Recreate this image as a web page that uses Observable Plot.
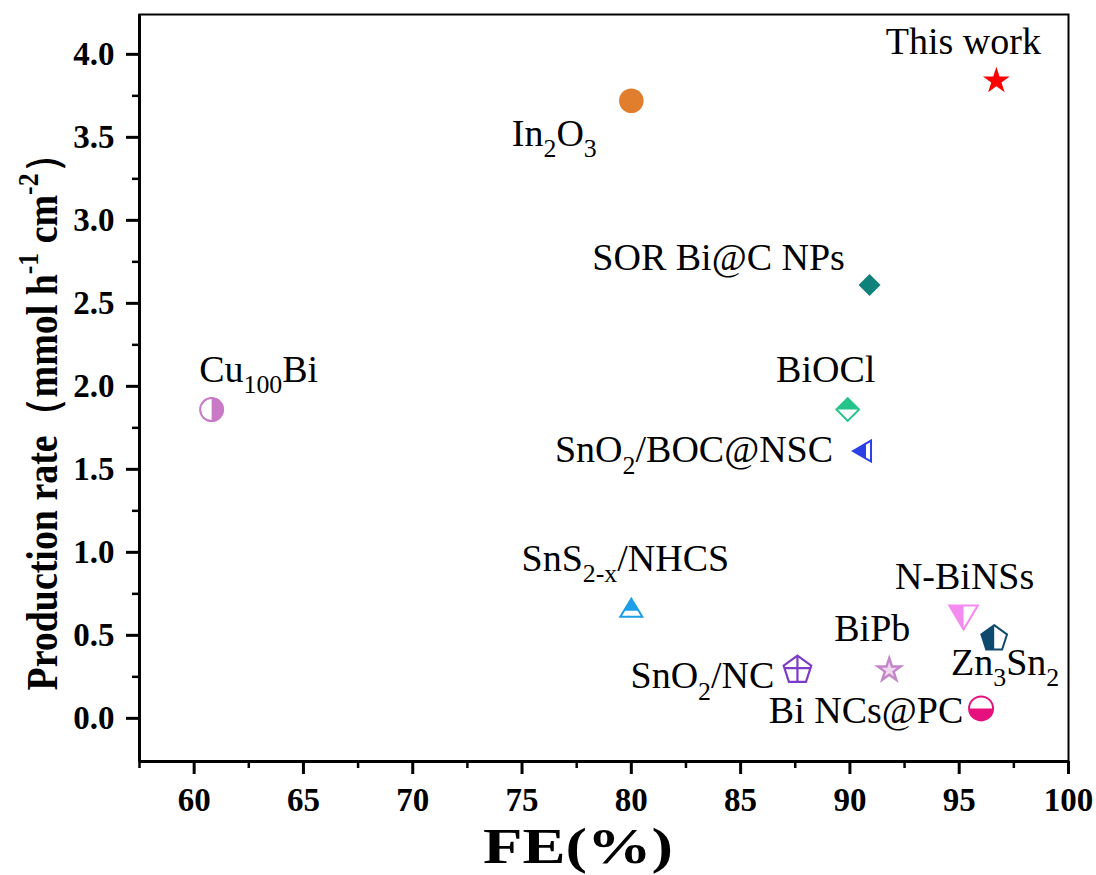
<!DOCTYPE html>
<html>
<head>
<meta charset="utf-8">
<script src="https://cdn.jsdelivr.net/npm/d3@7"></script>
<script src="https://cdn.jsdelivr.net/npm/@observablehq/plot@0.6"></script>
<style>
  html, body { margin: 0; padding: 0; background: #fff; }
  #chart svg { display: block; }
</style>
</head>
<body>
<div id="chart"></div>
<script>
// ---- data ----
const names = ["This work", "In_{2}O_{3}", "SOR Bi@C NPs", "Cu_{100}Bi", "BiOCl", "SnO_{2}/BOC@NSC",
               "SnS_{2-x}/NHCS", "N-BiNSs", "Zn_{3}Sn_{2}", "SnO_{2}/NC", "BiPb", "Bi NCs@PC"];
const fe   = [96.7, 80.0, 90.9, 60.8, 89.9, 90.6, 80.0, 95.2, 96.6, 87.6, 91.8, 96.0];
const rate = [3.84, 3.72, 2.61, 1.86, 1.86, 1.61, 0.66, 0.61, 0.48, 0.29, 0.29, 0.06];
const xTicks = [60, 65, 70, 75, 80, 85, 90, 95, 100];
const yTicks = [0, 0.5, 1.0, 1.5, 2.0, 2.5, 3.0, 3.5, 4.0];
const xMinor = [57.5, 62.5, 67.5, 72.5, 77.5, 82.5, 87.5, 92.5, 97.5];
const yMinor = [0.25, 0.75, 1.25, 1.75, 2.25, 2.75, 3.25, 3.75];
const xTitle = "FE(%)";
const yTitle = "Production rate（mmol h^{-1} cm^{-2}）";

const data = names.map((name, i) => ({name, fe: fe[i], rate: rate[i]}));

// ---- marker shapes ----
const S = (fn) => ({draw(ctx, size) { const r = Math.sqrt(size / Math.PI); fn(ctx, r); }});
const polyS = (pts) => S((c, r) => { pts.forEach(([x, y], i) => i ? c.lineTo(x * r, y * r) : c.moveTo(x * r, y * r)); c.closePath(); });
const pentPts = [[0, -1], [0.951, -0.309], [0.588, 0.809], [-0.588, 0.809], [-0.951, -0.309]];
const shapes = {
  circle: S((c, r) => { c.moveTo(r, 0); c.arc(0, 0, r, 0, 2 * Math.PI); c.closePath(); }),
  circleRight: S((c, r) => { c.moveTo(0, -r); c.arc(0, 0, r, -Math.PI / 2, Math.PI / 2); c.closePath(); }),
  circleBottom: S((c, r) => { c.moveTo(r, 0); c.arc(0, 0, r, 0, Math.PI); c.closePath(); }),
  diamond: polyS([[0, -1], [1, 0], [0, 1], [-1, 0]]),
  diamondTop: polyS([[0, -1], [1, 0], [-1, 0]]),
  triLeft: polyS([[-1, 0], [0.8, -1.05], [0.8, 1.05]]),
  triLeftFill: polyS([[-1, 0], [0.3, -0.758], [0.3, 0.758]]),
  triUp: polyS([[0, -1], [1.1, 0.8], [-1.1, 0.8]]),
  triUpFill: polyS([[0, -1], [0.733, 0.2], [-0.733, 0.2]]),
  triDown: polyS([[-1.1, -0.9], [1.1, -0.9], [0, 0.95]]),
  triDownFill: polyS([[-1.1, -0.9], [0, -0.9], [0, 0.95]]),
  pent: polyS(pentPts),
  pentLeft: polyS([[0, -1], [0, 0.809], [-0.588, 0.809], [-0.951, -0.309]]),
  pentCross: S((c, r) => {
    pentPts.forEach(([x, y], i) => i ? c.lineTo(x * r, y * r) : c.moveTo(x * r, y * r)); c.closePath();
    c.moveTo(0, -r); c.lineTo(0, 0.809 * r);
    c.moveTo(-0.899 * r, -0.15 * r); c.lineTo(0.899 * r, -0.15 * r);
  })
};

// ---- styles (per point, by index) ----
const style = [
  {base: "star", r: 8.4, color: "#ff0000", baseFill: "#ff0000", sw: 0},
  {base: shapes.circle, r: 12.3, color: "#e07e2d", baseFill: "#e07e2d", sw: 0},
  {base: shapes.diamond, r: 11, color: "#0f817b", baseFill: "#0f817b", sw: 0},
  {base: shapes.circle, overlay: shapes.circleRight, r: 11.5, color: "#c87ac6", baseFill: "#fff", sw: 2},
  {base: shapes.diamond, overlay: shapes.diamondTop, r: 11.3, color: "#25c48b", baseFill: "#fff", sw: 2},
  {base: shapes.triLeft, overlay: shapes.triLeftFill, r: 10, color: "#2b40e6", baseFill: "#fff", sw: 2},
  {base: shapes.triUp, overlay: shapes.triUpFill, r: 10, color: "#1c9fe6", baseFill: "#fff", sw: 2},
  {base: shapes.triDown, overlay: shapes.triDownFill, r: 13, color: "#f58af0", baseFill: "#fff", sw: 2},
  {base: shapes.pent, overlay: shapes.pentLeft, r: 13.5, color: "#0e4a6e", baseFill: "#fff", sw: 2},
  {base: shapes.pentCross, r: 14.5, color: "#7d3cc8", baseFill: "none", sw: 2.2},
  {base: "star", r: 7.2, color: "#c386c7", baseFill: "#f0d8f0", sw: 2.4},
  {base: shapes.circle, overlay: shapes.circleBottom, r: 12, color: "#e6117f", baseFill: "#fff", sw: 2}
];
// label offsets (px) relative to each point
const labelOffset = [
  [-33, -39], [-77, 33], [-151, -27], [47, -40], [-22, -40], [-169, -1],
  [-6, -50], [1, -40], [11, 24], [-95, 6], [-17, -41], [-115, 2]
];

const SERIF = "'Liberation Serif', 'Times New Roman', serif";
const LABEL_FS = 38;
const TICK_FS = 33;
const marks = [];
data.forEach((d, i) => {
  const s = style[i];
  marks.push(Plot.dot([d], {x: "fe", y: "rate", symbol: s.base, r: s.r, fill: s.baseFill,
    stroke: s.sw ? s.color : "none", strokeWidth: s.sw}));
  if (s.overlay) marks.push(Plot.dot([d], {x: "fe", y: "rate", symbol: s.overlay, r: s.r, fill: s.color, stroke: "none"}));
  marks.push(Plot.text([d], {x: "fe", y: "rate", text: "name", dx: labelOffset[i][0], dy: labelOffset[i][1],
    fontSize: LABEL_FS, fontFamily: SERIF, fill: "black", textAnchor: "middle", lineAnchor: "middle"}));
});

const chart = Plot.plot({
  width: 1096,
  height: 875,
  marginLeft: 139,
  marginRight: 28,
  marginTop: 14,
  marginBottom: 114,
  style: {fontFamily: SERIF, background: "white", color: "black"},
  x: {domain: [57.5, 100]},
  y: {domain: [-0.26, 4.24]},
  marks: [
    // tick marks (labels drawn as text marks below)
    Plot.axisX({ticks: xTicks, tickSize: 13, strokeWidth: 3, label: null, tickFormat: () => ""}),
    Plot.axisX({ticks: xMinor, tickSize: 7, strokeWidth: 2.5, label: null, tickFormat: () => ""}),
    Plot.axisY({ticks: yTicks, tickSize: 13, strokeWidth: 3, label: null, tickFormat: () => ""}),
    Plot.axisY({ticks: yMinor, tickSize: 7, strokeWidth: 2.5, label: null, tickFormat: () => ""}),
    // tick labels
    Plot.text(xTicks, {x: d => d, frameAnchor: "bottom", text: d3.format("d"), dy: 39,
      fontSize: TICK_FS, fontWeight: "bold", fontFamily: SERIF, textAnchor: "middle", lineAnchor: "middle"}),
    Plot.text(yTicks, {y: d => d, frameAnchor: "left", text: d3.format(".1f"), dx: -25,
      fontSize: TICK_FS, fontWeight: "bold", fontFamily: SERIF, textAnchor: "end", lineAnchor: "middle"}),
    Plot.frame({stroke: "black", strokeWidth: 2}),
    Plot.ruleX([57.5], {stroke: "black", strokeWidth: 3}),
    Plot.ruleY([-0.26], {stroke: "black", strokeWidth: 3}),
    Plot.text([yTitle], {frameAnchor: "left", text: d => d, rotate: -90, dx: -97, dy: 25,
      fontSize: 44, fontWeight: "bold", fontFamily: SERIF, textAnchor: "middle", lineAnchor: "middle"}),
    Plot.text([xTitle], {frameAnchor: "bottom", text: d => d, dx: -26, dy: 85,
      fontSize: 50, fontWeight: "bold", fontFamily: SERIF, textAnchor: "middle", lineAnchor: "middle"}),
    ...marks
  ]
});

document.getElementById("chart").appendChild(chart);

// ---- rich text: _{sub} and ^{sup} ----
chart.querySelectorAll("text").forEach(t => {
  const s = t.textContent;
  if (!/[_^]\{/.test(s)) return;
  const fs = parseFloat(getComputedStyle(t).fontSize) || 30;
  const parts = [];
  const re = /([_^])\{([^}]*)\}/g;
  let last = 0, m;
  while ((m = re.exec(s))) {
    if (m.index > last) parts.push({type: "n", text: s.slice(last, m.index)});
    parts.push({type: m[1] === "_" ? "sub" : "sup", text: m[2]});
    last = re.lastIndex;
  }
  if (last < s.length) parts.push({type: "n", text: s.slice(last)});
  while (t.firstChild) t.removeChild(t.firstChild);
  let shift = 0;
  const NS = "http://www.w3.org/2000/svg";
  parts.forEach(p => {
    const ts = document.createElementNS(NS, "tspan");
    let target = 0;
    if (p.type === "sub") { target = 0.3 * fs; ts.setAttribute("font-size", (0.68 * fs) + "px"); }
    if (p.type === "sup") { target = -0.42 * fs; ts.setAttribute("font-size", (0.68 * fs) + "px"); }
    const dy = target - shift;
    if (dy !== 0) ts.setAttribute("dy", dy + "px");
    shift = target;
    ts.textContent = p.text;
    t.appendChild(ts);
  });
});

// stretch axis titles to the reference's lengths
chart.querySelectorAll("text").forEach(t => {
  const s = t.textContent;
  if (s.startsWith("Production rate")) { t.setAttribute("textLength", 555); t.setAttribute("lengthAdjust", "spacingAndGlyphs"); }
  if (s === "FE(%)") { t.setAttribute("textLength", 190); t.setAttribute("lengthAdjust", "spacingAndGlyphs"); }
});
</script>
</body>
</html>
